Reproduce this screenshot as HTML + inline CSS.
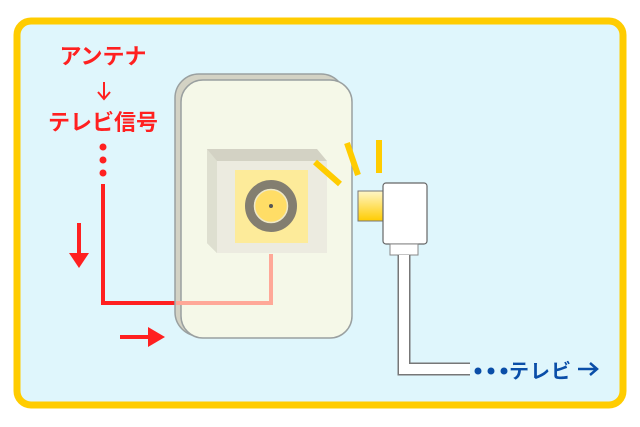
<!DOCTYPE html>
<html><head><meta charset="utf-8"><style>
html,body{margin:0;padding:0;background:#fff;}
svg{display:block;}
text{font-family:"Liberation Sans","Noto Sans CJK JP",sans-serif;font-weight:bold;}
</style></head><body>
<svg width="640" height="427" viewBox="0 0 640 427" xmlns="http://www.w3.org/2000/svg">
<defs>
<linearGradient id="pg" x1="0" y1="0" x2="0" y2="1"><stop offset="0" stop-color="#fff6c8"/><stop offset="1" stop-color="#ffcc00"/></linearGradient>
</defs>
<rect x="17" y="21" width="606" height="384" rx="14" fill="#dff6fc" stroke="#ffcc00" stroke-width="7"/>
<text x="103" y="64" font-size="22" fill="#ff2020" text-anchor="middle">アンテナ</text>
<line x1="104" y1="82" x2="104" y2="98" stroke="#ff2020" stroke-width="2"/>
<polyline points="98,92 104,99 110,92" fill="none" stroke="#ff2020" stroke-width="2"/>
<text x="103" y="130" font-size="22" fill="#ff2020" text-anchor="middle">テレビ信号</text>
<circle cx="103" cy="147" r="3.5" fill="#ff2020"/>
<circle cx="103" cy="160" r="3.5" fill="#ff2020"/>
<circle cx="103" cy="173" r="3.5" fill="#ff2020"/>
<polyline points="103,184 103,303 178,303" fill="none" stroke="#ff2020" stroke-width="4"/>
<line x1="79" y1="223" x2="79" y2="258" stroke="#ff2020" stroke-width="4"/>
<polygon points="69,253 89,253 79,268" fill="#ff2020"/>
<line x1="120" y1="337" x2="152" y2="337" stroke="#ff2020" stroke-width="4"/>
<polygon points="148,327 148,347 165,337" fill="#ff2020"/>
<rect x="175" y="74" width="170" height="262" rx="24" fill="#d3d2c4" stroke="#9aa0a0" stroke-width="1.5"/>
<rect x="181" y="80" width="171" height="258" rx="22" fill="#f5f8e8" stroke="#9aa0a0" stroke-width="1.5"/>
<polyline points="176,303 271,303 271,254" fill="none" stroke="#ffa898" stroke-width="4"/>
<polygon points="207,149 317,149 327,161 327,253 217,253 207,243" fill="#d3d2c4"/>
<polygon points="207,149 217,161 217,253 207,243" fill="#dedfd0"/>
<rect x="217" y="161" width="110" height="92" fill="#ecebe0"/>
<rect x="235" y="170" width="73" height="73" fill="#fdeb9a"/>
<circle cx="271" cy="206" r="21.5" fill="#ffdd66" stroke="#837e70" stroke-width="9"/>
<circle cx="271" cy="206" r="16.5" fill="none" stroke="#eee8c8" stroke-width="1.5"/>
<circle cx="271" cy="206" r="2" fill="#555"/>
<line x1="315" y1="162" x2="340" y2="184" stroke="#ffcc00" stroke-width="6"/>
<line x1="347" y1="143" x2="358" y2="175" stroke="#ffcc00" stroke-width="6"/>
<line x1="379" y1="140" x2="379" y2="173" stroke="#ffcc00" stroke-width="6"/>
<rect x="358" y="191" width="27" height="30" fill="url(#pg)" stroke="#777" stroke-width="1"/>
<rect x="383" y="183" width="44" height="61" rx="3" fill="#fff" stroke="#666" stroke-width="1.2"/>
<rect x="390" y="244" width="28" height="11" fill="#fff" stroke="#888" stroke-width="1"/>
<polyline points="404,255 404,369 470,369" fill="none" stroke="#777" stroke-width="13"/>
<polyline points="404,255 404,369 470,369" fill="none" stroke="#fff" stroke-width="10"/>
<circle cx="478" cy="371" r="3.5" fill="#0a4ea8"/>
<circle cx="491" cy="371" r="3.5" fill="#0a4ea8"/>
<circle cx="504" cy="371" r="3.5" fill="#0a4ea8"/>
<text x="509" y="378" font-size="20" fill="#0a4ea8" letter-spacing="1">テレビ</text>
<line x1="578" y1="369" x2="596" y2="369" stroke="#0a4ea8" stroke-width="2.5"/>
<polyline points="590,363 597,369 590,375" fill="none" stroke="#0a4ea8" stroke-width="2.5"/>
</svg>
</body></html>
